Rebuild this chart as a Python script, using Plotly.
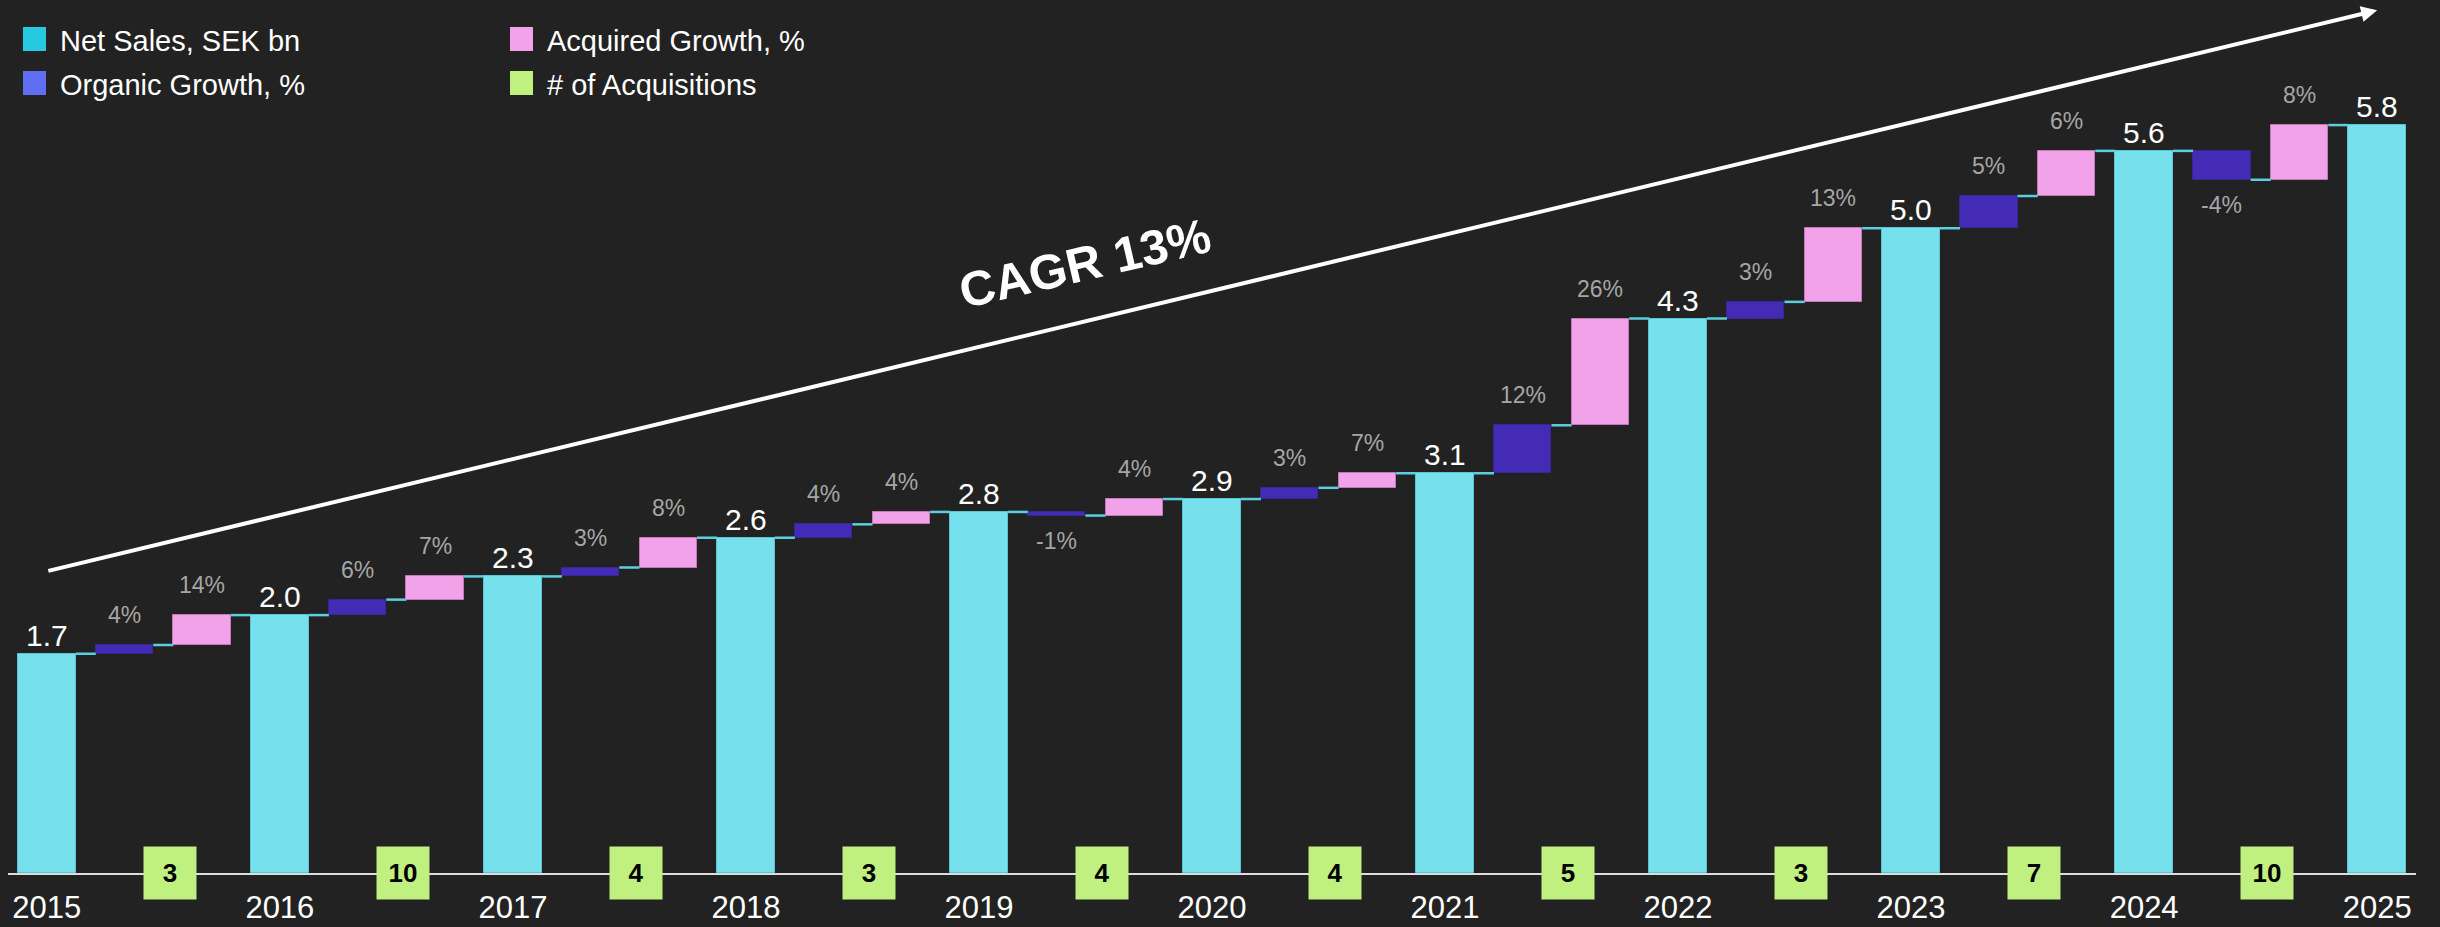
import plotly.graph_objects as go

# ---------------- data ----------------
years = [2015, 2016, 2017, 2018, 2019, 2020, 2021, 2022, 2023, 2024, 2025]
net_sales = [1.7, 2.0, 2.3, 2.6, 2.8, 2.9, 3.1, 4.3, 5.0, 5.6, 5.8]          # SEK bn
organic_growth = [4, 6, 3, 4, -1, 3, 12, 3, 5, -4]                            # %
acquired_growth = [14, 7, 8, 4, 4, 7, 26, 13, 6, 8]                           # %
n_acquisitions = [3, 10, 4, 3, 4, 4, 5, 3, 7, 10]
legend_labels = ["Net Sales, SEK bn", "Organic Growth, %", "Acquired Growth, %", "# of Acquisitions"]
cagr_label = "CAGR 13%"

# ---------------- style ----------------
W_PX, H_PX = 2440, 927
ML, MR, MT, MB = 8, 24, 0, 54
BG = "#222222"
C_NET, C_ORG, C_ACQ, C_GREEN = "#77e0ed", "#442bb6", "#f2a2e9", "#c0f080"
C_NET_L, C_ORG_L, C_ACQ_L = "#5ec4d4", "#3a2596", "#c07ab8"
LEG_COLORS = ["#26c9e0", "#5f6ef2", "#f2a2e9", "#c0f080"]
C_CONN = "#5ccfdf"
FONT = "Liberation Sans, Arial, sans-serif"
BAR_W = 0.74
Y_MAX = 6.77
BOX_OFFSET = 1.58

PW, PH = W_PX - ML - MR, H_PX - MT - MB


def px_x(x):
    return (x - ML) / PW


def px_y(y):
    return 1 - (y - MT) / PH


# positions: net at 3i, organic at 3i+1, acquired at 3i+2
net_x = [3 * i for i in range(len(years))]
org_x = [3 * i + 1 for i in range(len(organic_growth))]
acq_x = [3 * i + 2 for i in range(len(acquired_growth))]

org_base = net_sales[:-1]
org_h = [n * g / 100 for n, g in zip(net_sales[:-1], organic_growth)]
acq_base = [b + h for b, h in zip(org_base, org_h)]
acq_h = [nxt - b for nxt, b in zip(net_sales[1:], acq_base)]

fig = go.Figure()

# connectors
cx, cy = [], []
half = BAR_W / 2
for i in range(len(organic_growth)):
    segs = [
        (net_x[i], org_x[i], net_sales[i]),
        (org_x[i], acq_x[i], acq_base[i]),
        (acq_x[i], net_x[i + 1], net_sales[i + 1]),
    ]
    for a, b, lvl in segs:
        cx += [a + half, b - half, None]
        cy += [lvl, lvl, None]
fig.add_trace(go.Scatter(x=cx, y=cy, mode="lines", line=dict(color=C_CONN, width=2.5),
                         hoverinfo="skip", showlegend=False))

fig.add_trace(go.Bar(x=net_x, y=net_sales, base=0, width=BAR_W, name=legend_labels[0],
                     marker=dict(color=C_NET, line=dict(color=C_NET_L, width=1)), showlegend=False))
fig.add_trace(go.Bar(x=org_x, y=org_h, base=org_base, width=BAR_W, name=legend_labels[1],
                     marker=dict(color=C_ORG, line=dict(color=C_ORG_L, width=1)), showlegend=False))
fig.add_trace(go.Bar(x=acq_x, y=acq_h, base=acq_base, width=BAR_W, name=legend_labels[2],
                     marker=dict(color=C_ACQ, line=dict(color=C_ACQ_L, width=1)), showlegend=False))

ann = []
# net sales labels
for x, v in zip(net_x, net_sales):
    ann.append(dict(x=x, y=v, text=f"{v:.1f}", showarrow=False, yanchor="bottom", yshift=0,
                    font=dict(family=FONT, size=30, color="#ffffff")))
# growth labels
for xs, bases, hs, vals in [(org_x, org_base, org_h, organic_growth), (acq_x, acq_base, acq_h, acquired_growth)]:
    for x, b, h, p in zip(xs, bases, hs, vals):
        if p >= 0:
            ann.append(dict(x=x, y=max(b, b + h), text=f"{p}%", showarrow=False, yanchor="bottom", yshift=15,
                            font=dict(family=FONT, size=23, color="#a6a6a6")))
        else:
            ann.append(dict(x=x, y=min(b, b + h), text=f"{p}%", showarrow=False, yanchor="top", yshift=-10,
                            font=dict(family=FONT, size=23, color="#a6a6a6")))
# acquisitions boxes
for i, n in enumerate(n_acquisitions):
    ann.append(dict(x=net_x[i] + BOX_OFFSET, y=0, text=f"<b>{n}</b>", showarrow=False, yanchor="middle",
                    xanchor="center", width=50, height=50, borderpad=1, bgcolor=C_GREEN,
                    font=dict(family=FONT, size=26, color="#000000")))
# CAGR arrow and label
ann.append(dict(x=30, y=6.69, ax=0, ay=2.34, axref="x", ayref="y", text="", showarrow=True,
                arrowhead=2, arrowsize=0.8, arrowwidth=4, arrowcolor="#ffffff", standoff=0, startstandoff=0))
ann.append(dict(x=13.37, y=4.73, text=f"<b>{cagr_label}</b>", showarrow=False, textangle=-13,
                font=dict(family=FONT, size=49, color="#ffffff")))

# custom legend
shapes = []
leg_pos = [(23, 27), (23, 71), (510, 27), (510, 71)]
for (lx, ly), lab, col in zip(leg_pos, legend_labels, LEG_COLORS):
    shapes.append(dict(type="rect", xref="paper", yref="paper", x0=px_x(lx), x1=px_x(lx + 23),
                       y0=px_y(ly + 24), y1=px_y(ly), fillcolor=col, line=dict(width=0)))
    ann.append(dict(xref="paper", yref="paper", x=px_x(lx + 35), y=px_y(ly + 14), text=lab,
                    showarrow=False, xanchor="left", yanchor="middle",
                    font=dict(family=FONT, size=29, color="#ffffff")))

fig.update_layout(
    width=W_PX, height=H_PX,
    margin=dict(l=ML, r=MR, t=MT, b=MB),
    paper_bgcolor=BG, plot_bgcolor=BG,
    barmode="overlay", bargap=0,
    annotations=ann, shapes=shapes,
    showlegend=False,
    xaxis=dict(range=[-0.5, 30.5], tickvals=net_x, ticktext=[str(y) for y in years],
               showgrid=False, zeroline=False, showline=True, linecolor="#dddddd", linewidth=2,
               ticks="", ticklabelstandoff=6,
               tickfont=dict(family=FONT, size=31, color="#ffffff")),
    yaxis=dict(range=[0, Y_MAX], visible=False, showgrid=False, zeroline=False),
)

fig.write_html("out.html", config={"displayModeBar": False},
               post_script="document.body.style.margin='0';document.body.style.background='#222222';")
